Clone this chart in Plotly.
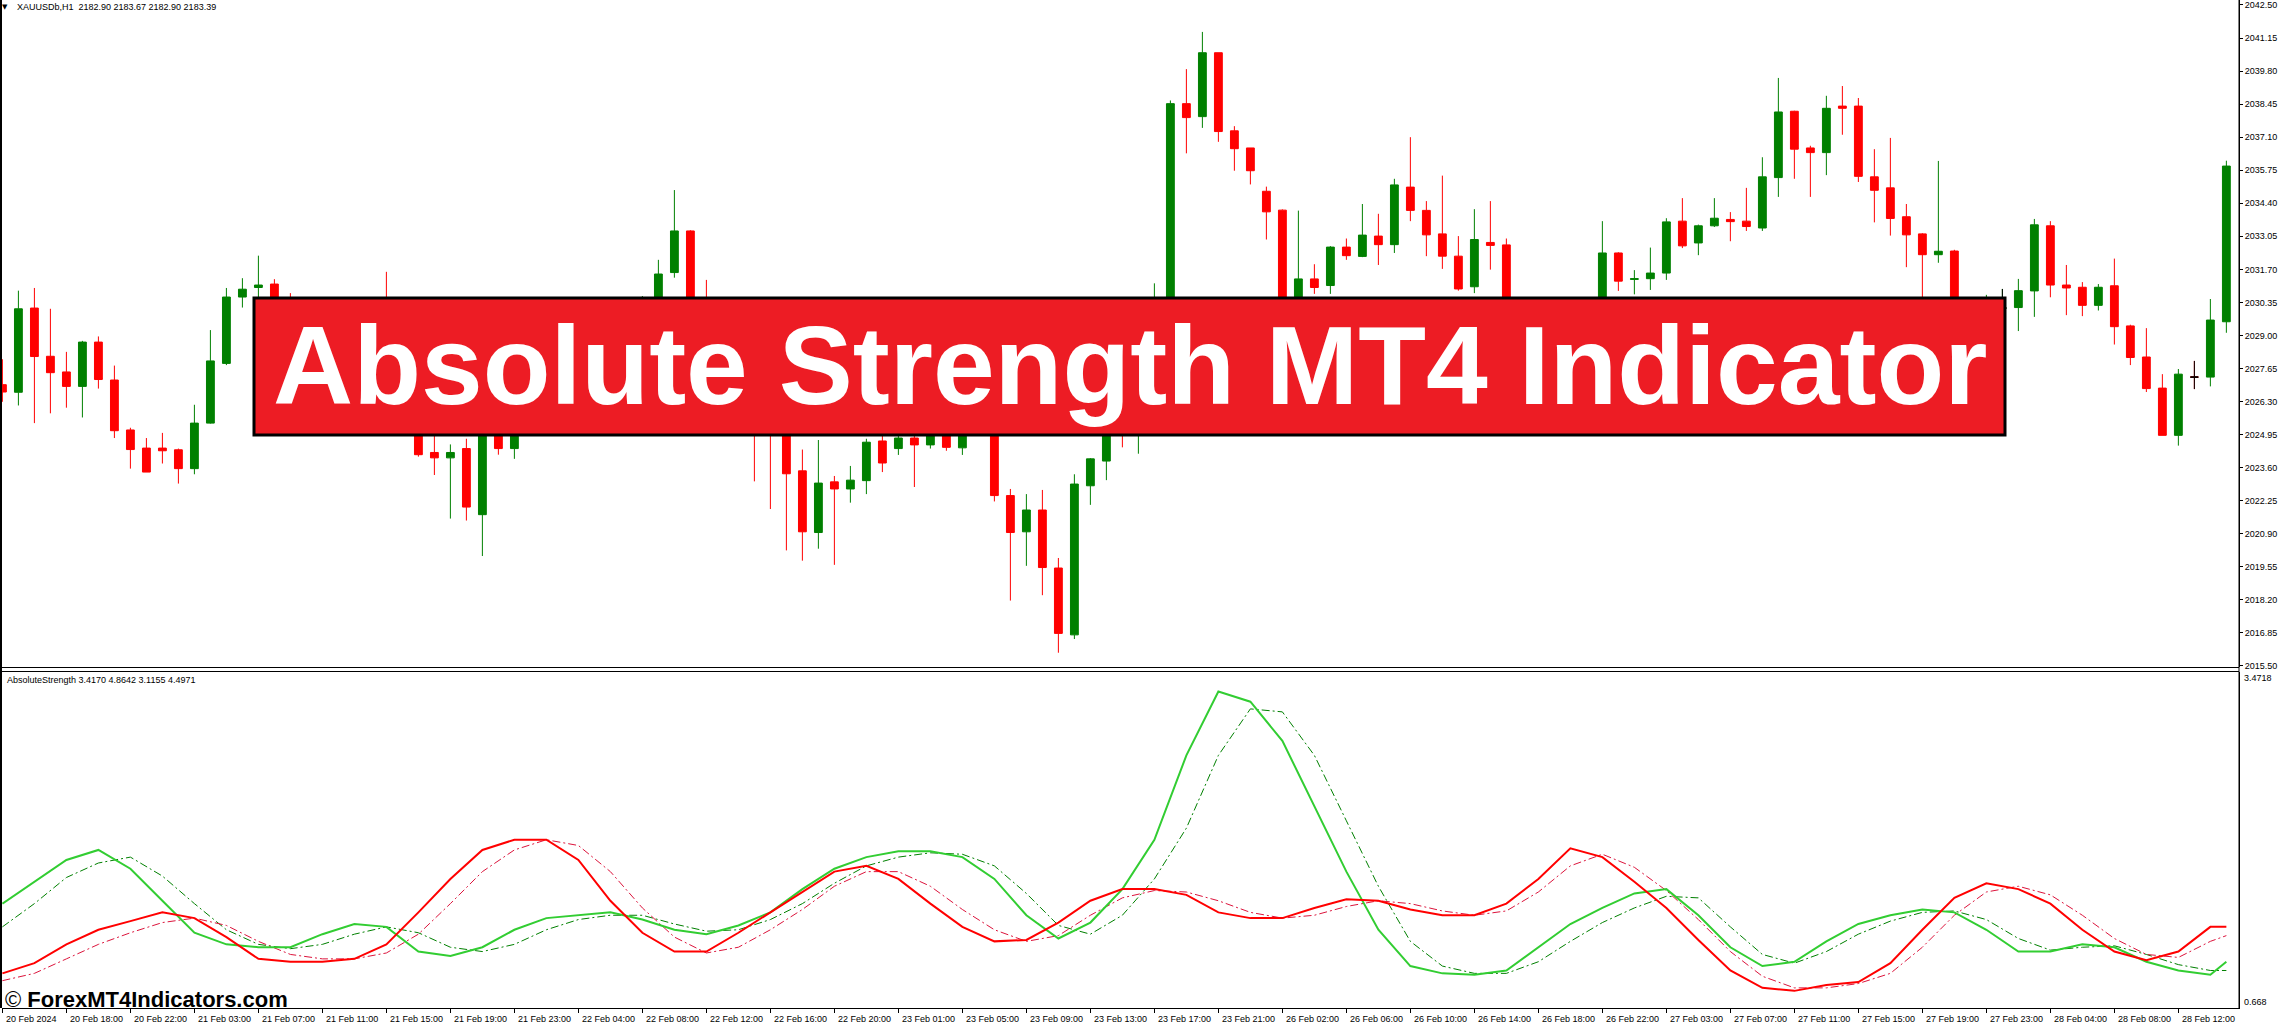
import plotly.graph_objects as go

# ---------------- data ----------------
SESSIONS = [("20 Feb", 14, 23), ("21 Feb", 1, 23), ("22 Feb", 1, 23), ("23 Feb", 1, 23),
            ("26 Feb", 1, 23), ("27 Feb", 1, 23), ("28 Feb", 1, 15)]
TIMES = [f"{d} {h:02d}:00" for d, a, b in SESSIONS for h in range(a, b + 1)]

OPEN = [2026.99, 2026.68, 2030.12, 2028.15, 2027.51, 2026.92, 2028.73, 2027.18, 2025.14, 2024.40,
        2024.40, 2024.33, 2023.56, 2025.42, 2027.86, 2030.57, 2030.96, 2031.10, 2029.95, 2029.40,
        2029.90, 2029.20, 2028.40, 2028.90, 2028.20, 2026.80, 2025.60, 2024.22, 2024.00, 2024.38,
        2021.68, 2025.60, 2024.38, 2025.30, 2026.40, 2025.90, 2027.00, 2027.80, 2027.30, 2028.60,
        2029.50, 2030.20, 2031.57, 2033.27, 2029.60, 2028.90, 2027.80, 2028.30, 2026.50, 2025.50,
        2023.47, 2020.95, 2023.02, 2022.73, 2023.07, 2024.69, 2024.38, 2024.81, 2024.53, 2025.10,
        2024.41, 2025.20, 2025.60, 2022.46, 2020.98, 2021.87, 2019.50, 2016.77, 2022.86, 2023.87,
        2025.40, 2025.00, 2026.20, 2027.40, 2038.47, 2037.94, 2040.55, 2037.36, 2036.66, 2034.89,
        2034.12, 2029.40, 2031.31, 2031.04, 2032.61, 2032.23, 2033.06, 2032.71, 2035.06, 2034.11,
        2033.15, 2032.24, 2030.99, 2032.80, 2032.70, 2029.90, 2029.30, 2029.80, 2029.20, 2029.70,
        2030.10, 2032.37, 2031.29, 2031.32, 2031.55, 2033.67, 2032.78, 2033.48, 2033.74, 2033.67,
        2033.39, 2035.45, 2038.16, 2036.66, 2036.47, 2038.37, 2038.37, 2035.48, 2035.03, 2033.85,
        2033.15, 2032.30, 2032.45, 2029.90, 2029.50, 2030.12, 2030.14, 2030.82, 2033.48, 2031.06,
        2030.97, 2030.23, 2031.03, 2029.39, 2028.12, 2026.85, 2024.92, 2027.30, 2027.30, 2029.56]
HIGH = [2028.03, 2030.83, 2030.94, 2030.09, 2028.33, 2028.78, 2028.96, 2027.77, 2025.23, 2024.81,
        2025.02, 2024.38, 2026.17, 2029.22, 2030.94, 2031.34, 2032.26, 2031.30, 2030.73, 2030.20,
        2030.10, 2029.50, 2029.30, 2029.40, 2031.60, 2027.20, 2025.90, 2025.20, 2024.55, 2024.78,
        2026.00, 2025.90, 2025.70, 2026.80, 2026.90, 2027.40, 2028.20, 2028.30, 2029.00, 2030.00,
        2030.61, 2032.09, 2034.94, 2033.30, 2031.27, 2029.20, 2028.70, 2028.50, 2026.90, 2025.80,
        2024.34, 2024.73, 2023.26, 2023.67, 2024.78, 2025.20, 2025.30, 2025.40, 2025.50, 2025.60,
        2025.70, 2026.00, 2025.90, 2022.73, 2022.52, 2022.69, 2019.91, 2023.33, 2023.99, 2025.80,
        2025.90, 2026.60, 2031.13, 2038.60, 2039.88, 2041.40, 2040.55, 2037.55, 2036.66, 2035.08,
        2034.15, 2034.10, 2031.91, 2032.65, 2032.96, 2034.37, 2033.97, 2035.40, 2037.10, 2034.49,
        2035.53, 2033.06, 2034.16, 2034.49, 2032.96, 2030.20, 2030.10, 2030.00, 2030.00, 2030.40,
        2033.67, 2032.40, 2031.67, 2032.59, 2033.79, 2034.61, 2033.53, 2034.61, 2034.04, 2035.03,
        2036.28, 2039.52, 2038.18, 2036.75, 2038.79, 2039.19, 2038.70, 2036.61, 2037.07, 2034.37,
        2033.18, 2036.13, 2032.50, 2030.30, 2030.66, 2030.90, 2031.31, 2033.76, 2033.67, 2031.88,
        2031.18, 2031.10, 2032.14, 2029.44, 2029.30, 2027.42, 2027.63, 2027.96, 2030.49, 2036.14]
LOW = [2026.29, 2026.14, 2025.42, 2025.82, 2026.05, 2025.65, 2026.83, 2024.81, 2023.56, 2023.42,
       2023.77, 2022.95, 2023.33, 2025.40, 2027.79, 2030.14, 2030.57, 2029.50, 2029.10, 2029.00,
       2028.80, 2028.10, 2028.00, 2027.70, 2026.50, 2025.10, 2024.05, 2023.30, 2021.52, 2021.44,
       2019.99, 2024.13, 2023.96, 2025.10, 2025.50, 2025.60, 2026.70, 2027.00, 2027.10, 2028.30,
       2029.20, 2029.90, 2031.36, 2029.20, 2028.60, 2027.40, 2027.20, 2023.04, 2021.91, 2020.22,
       2019.80, 2020.29, 2019.63, 2022.17, 2022.52, 2023.42, 2024.12, 2022.81, 2024.38, 2024.29,
       2024.12, 2025.00, 2022.22, 2018.17, 2019.59, 2018.39, 2016.04, 2016.60, 2022.08, 2023.09,
       2024.43, 2024.17, 2025.90, 2027.10, 2036.44, 2037.48, 2036.91, 2035.73, 2035.17, 2032.92,
       2029.00, 2029.10, 2030.70, 2030.70, 2032.09, 2032.20, 2031.88, 2032.37, 2033.67, 2032.24,
       2031.72, 2030.83, 2030.73, 2031.69, 2029.60, 2028.90, 2029.00, 2028.90, 2028.80, 2029.40,
       2029.80, 2030.82, 2030.68, 2030.86, 2031.27, 2032.57, 2032.28, 2033.43, 2032.85, 2033.27,
       2033.27, 2034.66, 2035.40, 2034.66, 2035.55, 2037.20, 2035.27, 2033.62, 2033.08, 2031.79,
       2029.90, 2031.97, 2029.50, 2029.10, 2029.20, 2029.60, 2029.18, 2029.76, 2030.56, 2029.83,
       2029.79, 2030.02, 2028.63, 2027.79, 2026.69, 2024.92, 2024.50, 2026.81, 2026.92, 2029.11]
CLOSE = [2026.69, 2030.09, 2028.14, 2027.48, 2026.92, 2028.73, 2027.20, 2025.11, 2024.34, 2023.42,
         2024.29, 2023.56, 2025.42, 2027.96, 2030.57, 2030.89, 2031.06, 2029.85, 2029.40, 2029.90,
         2029.20, 2028.40, 2028.90, 2028.20, 2026.80, 2025.60, 2024.13, 2024.00, 2024.22, 2021.99,
         2025.60, 2024.38, 2025.30, 2026.40, 2025.90, 2027.00, 2027.80, 2027.30, 2028.60, 2029.50,
         2030.20, 2031.51, 2033.27, 2029.60, 2028.90, 2027.80, 2028.30, 2026.50, 2025.50, 2023.35,
         2020.98, 2022.97, 2022.73, 2023.09, 2024.64, 2023.79, 2024.81, 2024.53, 2025.10, 2024.43,
         2025.20, 2025.60, 2022.46, 2020.95, 2021.87, 2019.52, 2016.83, 2022.93, 2023.96, 2025.40,
         2025.00, 2026.20, 2027.40, 2038.47, 2037.90, 2040.55, 2037.33, 2036.63, 2035.73, 2034.05,
         2029.40, 2031.31, 2030.96, 2032.61, 2032.26, 2033.10, 2032.71, 2035.15, 2034.11, 2033.11,
         2032.24, 2030.90, 2032.92, 2032.68, 2029.90, 2029.30, 2029.80, 2029.20, 2029.70, 2030.10,
         2032.37, 2031.22, 2031.32, 2031.55, 2033.64, 2032.66, 2033.48, 2033.79, 2033.65, 2033.45,
         2035.48, 2038.13, 2036.61, 2036.47, 2038.28, 2038.28, 2035.50, 2034.93, 2033.78, 2033.11,
         2032.30, 2032.44, 2029.90, 2029.50, 2030.00, 2030.12, 2030.83, 2033.52, 2031.06, 2030.94,
         2030.23, 2030.97, 2029.36, 2028.10, 2026.83, 2024.92, 2027.42, 2027.30, 2029.63, 2035.92]

# Absolute Strength indicator, sampled every second bar (plus the last bar)
IND_TIMES = TIMES[0:139:2] + [TIMES[139]]
BULLS = [1.539, 1.721, 1.903, 1.987, 1.830, 1.563, 1.296, 1.199, 1.175, 1.175,
         1.284, 1.369, 1.345, 1.139, 1.102, 1.175, 1.321, 1.418, 1.442, 1.466,
         1.406, 1.321, 1.284, 1.357, 1.466, 1.660, 1.830, 1.927, 1.975, 1.975,
         1.927, 1.745, 1.442, 1.248, 1.381, 1.660, 2.072, 2.776, 3.309, 3.224,
         2.897, 2.351, 1.806, 1.321, 1.018, 0.957, 0.945, 0.981, 1.175, 1.369,
         1.503, 1.624, 1.660, 1.442, 1.175, 1.018, 1.054, 1.224, 1.369, 1.442,
         1.490, 1.466, 1.321, 1.139, 1.139, 1.199, 1.175, 1.054, 0.981, 0.945, 1.054]
BULLS_SIG = [1.345, 1.539, 1.757, 1.878, 1.927, 1.769, 1.539, 1.321, 1.199, 1.163,
             1.199, 1.284, 1.345, 1.296, 1.175, 1.139, 1.199, 1.321, 1.406, 1.442,
             1.442, 1.369, 1.309, 1.321, 1.406, 1.539, 1.709, 1.854, 1.927, 1.963,
             1.951, 1.854, 1.624, 1.357, 1.284, 1.442, 1.745, 2.169, 2.776, 3.164,
             3.139, 2.776, 2.230, 1.684, 1.224, 1.018, 0.957, 0.957, 1.054, 1.224,
             1.381, 1.503, 1.600, 1.587, 1.345, 1.115, 1.042, 1.139, 1.284, 1.393,
             1.466, 1.478, 1.406, 1.248, 1.151, 1.175, 1.187, 1.115, 1.030, 0.981, 0.981]
BEARS = [0.957, 1.042, 1.199, 1.321, 1.393, 1.466, 1.418, 1.260, 1.078, 1.054,
         1.054, 1.078, 1.199, 1.466, 1.745, 1.987, 2.072, 2.072, 1.903, 1.563,
         1.296, 1.139, 1.139, 1.296, 1.466, 1.636, 1.806, 1.854, 1.745, 1.539,
         1.345, 1.224, 1.236, 1.381, 1.563, 1.660, 1.660, 1.612, 1.466, 1.418,
         1.418, 1.503, 1.575, 1.563, 1.490, 1.442, 1.442, 1.539, 1.745, 2.000,
         1.927, 1.721, 1.503, 1.236, 0.981, 0.836, 0.811, 0.860, 0.884, 1.042,
         1.321, 1.587, 1.709, 1.660, 1.539, 1.321, 1.139, 1.066, 1.139, 1.345, 1.345]
BEARS_SIG = [0.896, 0.957, 1.078, 1.199, 1.296, 1.381, 1.418, 1.357, 1.224, 1.115,
             1.078, 1.078, 1.127, 1.284, 1.539, 1.806, 1.987, 2.072, 2.024, 1.806,
             1.503, 1.260, 1.127, 1.175, 1.321, 1.490, 1.684, 1.806, 1.806, 1.684,
             1.490, 1.321, 1.224, 1.272, 1.442, 1.587, 1.648, 1.636, 1.563, 1.466,
             1.418, 1.442, 1.515, 1.563, 1.539, 1.478, 1.442, 1.478, 1.636, 1.854,
             1.951, 1.842, 1.648, 1.406, 1.139, 0.933, 0.836, 0.836, 0.872, 0.957,
             1.175, 1.442, 1.636, 1.684, 1.612, 1.442, 1.248, 1.115, 1.090, 1.224, 1.272]

PRICE_TICKS = [round(2015.50 + 1.35 * k, 2) for k in range(21)]
IND_MIN, IND_MAX = 0.668, 3.4718
XLABEL_IDX = list(range(0, 140, 4))
XLABELS = ["20 Feb 2024"] + [TIMES[i] for i in XLABEL_IDX[1:]]

HEADER = "XAUUSDb,H1\u00a0\u00a02182.90 2183.67 2182.90 2183.39"
IND_HEADER = "AbsoluteStrength 3.4170 4.8642 3.1155 4.4971"
TITLE = "Absolute Strength MT4 Indicator"
WATERMARK = "ForexMT4Indicators.com"

# ---------------- geometry helpers (pixels -> paper) ----------------
W, H = 2278, 1024
L, R, T, B = 2, 39, 0, 16
PW, PH = W - L - R, H - T - B


def px(x):
    return (x - L) / PW


def py(y):
    return (PH - (y - T)) / PH


FONT = "Tahoma, Liberation Sans, Arial, sans-serif"

fig = go.Figure()

fig.add_trace(go.Candlestick(
    x=TIMES, open=OPEN, high=HIGH, low=LOW, close=CLOSE,
    increasing=dict(line=dict(color="#008000", width=1), fillcolor="#008000"),
    decreasing=dict(line=dict(color="#FF0000", width=1), fillcolor="#FF0000"),
    whiskerwidth=0, xaxis="x", yaxis="y", showlegend=False, hoverinfo="skip"))

# doji bars (open == close) are drawn in black
dj = [o == c for o, c in zip(OPEN, CLOSE)]
fig.add_trace(go.Candlestick(
    x=TIMES,
    open=[o if d else None for o, d in zip(OPEN, dj)],
    high=[h if d else None for h, d in zip(HIGH, dj)],
    low=[l if d else None for l, d in zip(LOW, dj)],
    close=[c if d else None for c, d in zip(CLOSE, dj)],
    increasing=dict(line=dict(color="#000000", width=1), fillcolor="#000000"),
    decreasing=dict(line=dict(color="#000000", width=1), fillcolor="#000000"),
    whiskerwidth=0, xaxis="x", yaxis="y", showlegend=False, hoverinfo="skip"))

DASHDOT = "8px,3px,2px,3px"
fig.add_trace(go.Scatter(x=IND_TIMES, y=BULLS_SIG, mode="lines", yaxis="y2",
                         line=dict(color="#008000", width=1, dash=DASHDOT), hoverinfo="skip"))
fig.add_trace(go.Scatter(x=IND_TIMES, y=BEARS_SIG, mode="lines", yaxis="y2",
                         line=dict(color="#DC143C", width=1, dash=DASHDOT), hoverinfo="skip"))
fig.add_trace(go.Scatter(x=IND_TIMES, y=BULLS, mode="lines", yaxis="y2",
                         line=dict(color="#32CD32", width=2), hoverinfo="skip"))
fig.add_trace(go.Scatter(x=IND_TIMES, y=BEARS, mode="lines", yaxis="y2",
                         line=dict(color="#FF0000", width=2), hoverinfo="skip"))

annotations = []
for i, lab in zip(XLABEL_IDX, XLABELS):
    annotations.append(dict(x=TIMES[i], xref="x", y=0, yref="paper", yshift=-11,
                            xanchor="left", yanchor="middle", xshift=2, text=lab,
                            showarrow=False, font=dict(family=FONT, size=9, color="black")))
annotations += [
    dict(x=1, xref="paper", xshift=3, y=py(678), yref="paper", xanchor="left", yanchor="middle",
         text=f"{IND_MAX:.4f}", showarrow=False, font=dict(family=FONT, size=9, color="black")),
    dict(x=1, xref="paper", xshift=3, y=py(1002), yref="paper", xanchor="left", yanchor="middle",
         text=f"{IND_MIN:.3f}", showarrow=False, font=dict(family=FONT, size=9, color="black")),
    dict(x=px(5), xref="paper", y=py(7), yref="paper", xanchor="center", yanchor="middle",
         text="▼", showarrow=False, font=dict(family="DejaVu Sans", size=7, color="black")),
    dict(x=px(15), xref="paper", y=py(7), yref="paper", xanchor="left", yanchor="middle",
         text=HEADER, showarrow=False, font=dict(family=FONT, size=9, color="black")),
    dict(x=px(5), xref="paper", y=py(680), yref="paper", xanchor="left", yanchor="middle",
         text=IND_HEADER, showarrow=False, font=dict(family=FONT, size=9, color="black")),
    dict(x=px(3), xref="paper", y=py(999), yref="paper", xanchor="left", yanchor="middle",
         text="© <b>" + WATERMARK + "</b>", showarrow=False,
         font=dict(family="Liberation Sans, Arial, sans-serif", size=22, color="black")),
    dict(x=(px(254) + px(2005)) / 2, xref="paper", y=(py(298) + py(435)) / 2, yref="paper",
         xanchor="center", yanchor="middle", text="<b>" + TITLE + "</b>", showarrow=False,
         font=dict(family="Liberation Sans, Arial, sans-serif", size=111, color="white")),
]

shapes = [
    # banner
    dict(type="rect", xref="paper", yref="paper", x0=px(254), x1=px(2005), y0=py(435), y1=py(298),
         fillcolor="#ED1C24", line=dict(color="black", width=3), layer="above"),
    # panel separators
    dict(type="line", xref="paper", yref="paper", x0=px(0), x1=1, y0=py(667.5), y1=py(667.5),
         line=dict(color="black", width=1)),
    dict(type="line", xref="paper", yref="paper", x0=px(0), x1=1, y0=py(671.5), y1=py(671.5),
         line=dict(color="black", width=1)),
    # left border
    dict(type="line", xref="paper", yref="paper", x0=px(1), x1=px(1), y0=0, y1=1,
         line=dict(color="black", width=2)),
    # right axis border
    dict(type="line", xref="paper", yref="paper", x0=1, x1=1, y0=0, y1=1,
         line=dict(color="black", width=1)),
]

fig.update_layout(
    width=W, height=H, margin=dict(l=L, r=R, t=T, b=B, pad=0),
    paper_bgcolor="white", plot_bgcolor="white", showlegend=False,
    xaxis=dict(domain=[0, 1], anchor="y2", type="category", categoryorder="array",
               categoryarray=TIMES, range=[-0.025, 139.79], showgrid=False, zeroline=False,
               showline=True, linecolor="black", linewidth=1, ticks="outside", ticklen=4,
               tickcolor="black", tickvals=[TIMES[i] for i in XLABEL_IDX], showticklabels=False,
               rangeslider=dict(visible=False), fixedrange=True),
    yaxis=dict(domain=[py(667), 1], range=[2015.457, 2042.704], side="right", anchor="x",
               showgrid=False, zeroline=False, showline=True, linecolor="black", ticks="outside",
               ticklen=3, tickcolor="black", tickvals=PRICE_TICKS,
               ticktext=[f"{v:.2f}" for v in PRICE_TICKS],
               tickfont=dict(family=FONT, size=9, color="black"), fixedrange=True),
    yaxis2=dict(domain=[0, py(672)], range=[IND_MIN, IND_MAX], side="right", anchor="x",
                showgrid=False, zeroline=False, showline=True, linecolor="black",
                showticklabels=False, ticks="", fixedrange=True),
    annotations=annotations, shapes=shapes,
)

fig.write_html(
    "out.html",
    config={"displayModeBar": False},
    post_script="document.body.style.margin='0';document.body.style.overflow='hidden';",
)
